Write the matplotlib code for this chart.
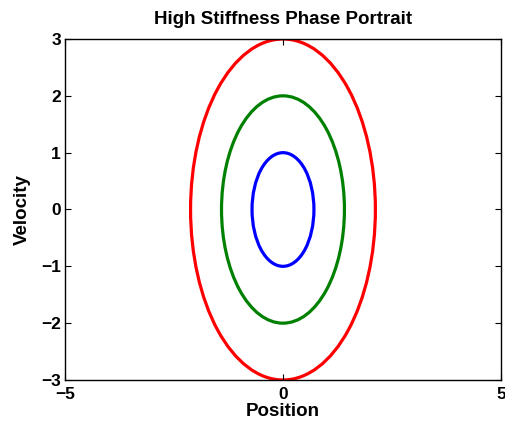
import matplotlib.pyplot as plt
from matplotlib.patches import Ellipse

# phase portrait orbits
pos_amp = [0.71, 1.41, 2.12]
vel_amp = [1.0, 2.0, 3.0]
colors = ['#0000ff', '#008000', '#ff0000']

xticks = [-5, 0, 5]
yticks = [-3, -2, -1, 0, 1, 2, 3]

plt.rcParams['font.family'] = ['Liberation Sans', 'DejaVu Sans']
plt.rcParams['font.weight'] = 'bold'
plt.rcParams['font.size'] = 12.5

fig = plt.figure(figsize=(5.06, 4.30), dpi=100)
ax = fig.add_axes([0.1285, 0.1163, 0.8615, 0.793])

for a, b, c in zip(pos_amp, vel_amp, colors):
    ax.add_patch(Ellipse((0, 0), 2 * a, 2 * b, fill=False, edgecolor=c, linewidth=2.3))

ax.set_xlim(-5, 5)
ax.set_ylim(-3, 3)
ax.set_xticks(xticks)
ax.set_yticks(yticks)
ax.tick_params(direction='in', length=4, width=0.8, top=True, right=True, pad=3)
ax.tick_params(axis='x', pad=5)
for s in ax.spines.values():
    s.set_linewidth(1.0)

ax.set_title('High Stiffness Phase Portrait', fontsize=13.5, fontweight='bold', pad=11)
ax.set_xlabel('Position', fontsize=13.5, fontweight='bold', labelpad=1)
ax.set_ylabel('Velocity', fontsize=13.5, fontweight='bold', labelpad=7)

fig.savefig('out.png', dpi=100)
